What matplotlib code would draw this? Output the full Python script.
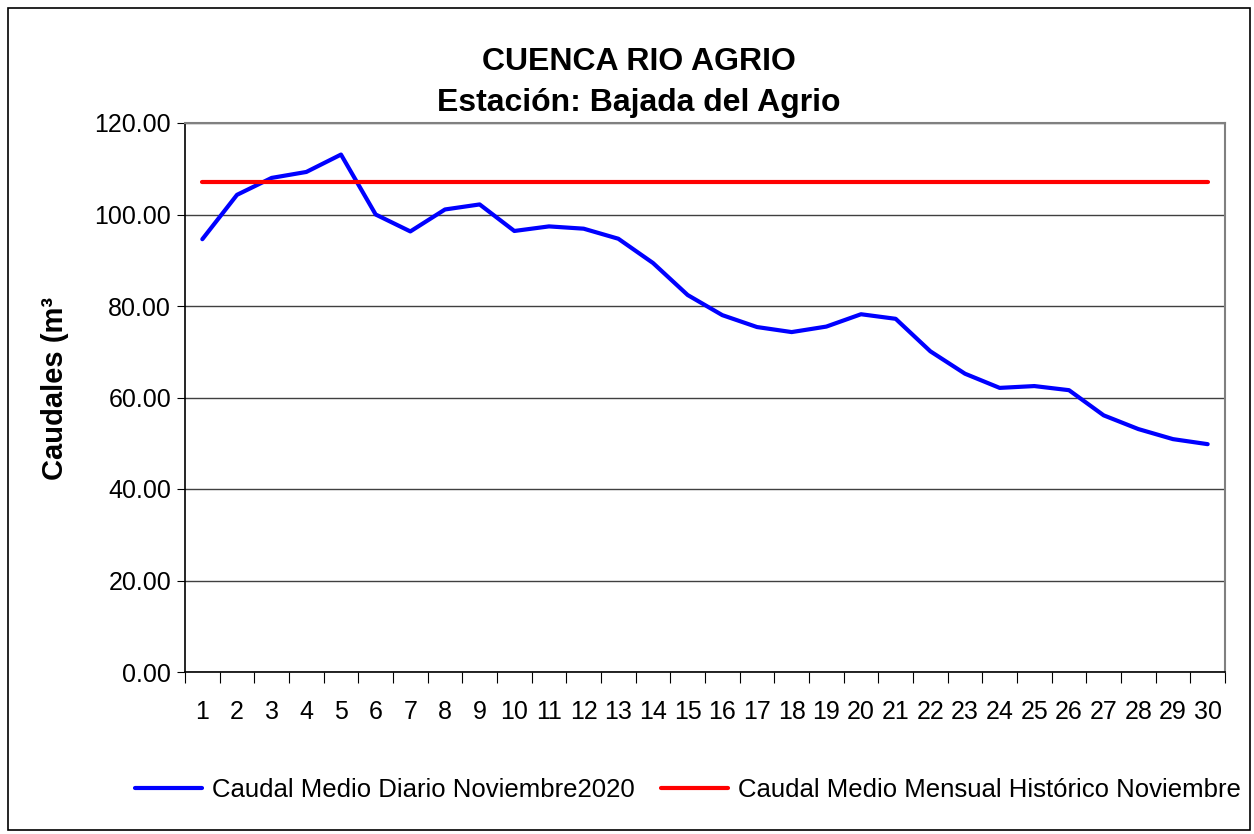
import matplotlib
matplotlib.use("Agg")
import matplotlib.pyplot as plt
from matplotlib.patches import Rectangle
import numpy as np

plt.rcParams['font.family'] = ['Liberation Sans', 'DejaVu Sans']

# datos
dias = list(range(1, 31))
caudal_diario = [94.6, 104.3, 108.0, 109.3, 113.1, 100.0, 96.3, 101.1, 102.2, 96.4,
                 97.4, 96.9, 94.7, 89.4, 82.4, 78.0, 75.4, 74.3, 75.5, 78.2,
                 77.2, 70.1, 65.2, 62.1, 62.5, 61.6, 56.1, 53.1, 50.9, 49.8]
caudal_historico = [107.0] * 30

fig = plt.figure(figsize=(12.54, 8.34), dpi=100)
ax = fig.add_axes([185/1254, 1-672/834, (1225-185)/1254, (672-123)/834])

ax.plot(dias, caudal_diario, color="#0000FF", lw=3, solid_capstyle="round",
        label="Caudal Medio Diario Noviembre2020", zorder=3)
ax.plot(dias, caudal_historico, color="#FF0000", lw=3, solid_capstyle="round",
        label="Caudal Medio Mensual Histórico Noviembre", zorder=3)

ax.set_xlim(0.5, 30.5)
ax.set_ylim(0, 120)
ax.set_yticks(np.arange(0, 121, 20))
ax.set_yticklabels(["%.2f" % v for v in np.arange(0, 121, 20)], fontsize=18)
ax.yaxis.grid(True, color="#404040", lw=1)
ax.set_axisbelow(True)

# marcas entre categorias, etiquetas al centro
ax.set_xticks(np.arange(0.5, 31, 1))
ax.set_xticklabels([])
ax.set_xticks(dias, minor=True)
ax.set_xticklabels([str(d) for d in dias], minor=True, fontsize=18)
ax.tick_params(axis="x", which="major", direction="out", length=8, color="black")
ax.tick_params(axis="x", which="minor", length=0, pad=20)
ax.tick_params(axis="y", direction="out", length=6, pad=4)

for s in ["left", "bottom"]:
    ax.spines[s].set_color("black")
    ax.spines[s].set_linewidth(1.2)
for s in ["top", "right"]:
    ax.spines[s].set_color("#808080")
    ax.spines[s].set_linewidth(1.5)

fig.text(639/1254, 1-62/834, "CUENCA RIO AGRIO", ha="center", va="center",
         fontsize=23, fontweight="bold")
fig.text(639/1254, 1-103/834, "Estación: Bajada del Agrio", ha="center", va="center",
         fontsize=23, fontweight="bold")
fig.text(55/1254, 1-388/834, "Caudales (m³", rotation=90, ha="center", va="center",
         fontsize=21, fontweight="bold")

fig.legend(loc="center", bbox_to_anchor=(688/1254, 1-790/834), ncol=2, frameon=False,
           fontsize=18.5, handlelength=2.6, columnspacing=1.0, handletextpad=0.4)

fig.add_artist(Rectangle((8/1254, 4/834), 1242/1254, 822/834, transform=fig.transFigure,
                         fill=False, edgecolor="black", lw=1.2))

fig.savefig("out.png", dpi=100)
